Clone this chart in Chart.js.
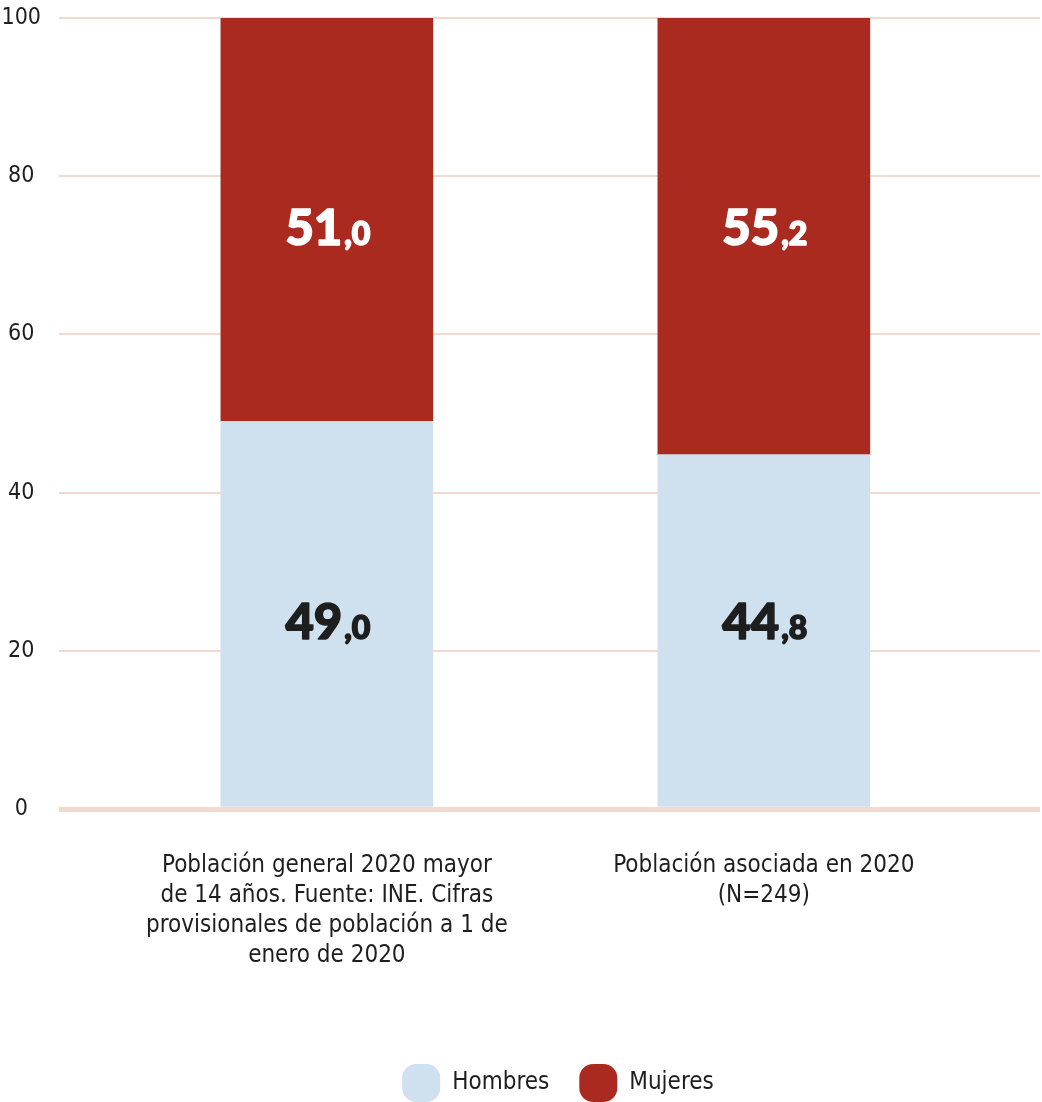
<!DOCTYPE html>
<html>
<head>
<meta charset="utf-8">
<script src="https://cdn.jsdelivr.net/npm/chart.js@4.4.1/dist/chart.umd.min.js"></script>
<style>
  html, body { margin: 0; padding: 0; background: #fff; }
  #wrap { width: 1042px; height: 1102px; position: relative; }
</style>
</head>
<body>
<div id="wrap"><canvas id="cSexo"></canvas></div>
<script>
// Distribución por sexo: población general vs población asociada (%)
const categorias = [
  ['Población general 2020 mayor', 'de 14 años. Fuente: INE. Cifras', 'provisionales de población a 1 de', 'enero de 2020'],
  ['Población asociada en 2020', '(N=249)']
];
const hombres = [49.0, 44.8];
const mujeres = [51.0, 55.2];
const yTicks = [0, 20, 40, 60, 80, 100];

const FONT = "'Liberation Sans Narrow', 'DejaVu Sans Condensed', sans-serif";
const BOLD = "Lato, 'DejaVu Sans', sans-serif";
const C_H = '#cfe0ef';
const C_M = '#ab2a20';
const GRID = '#f1dbd1';

// etiquetas "51,0": parte entera grande + decimal pequeño.
// Cada serie va a la misma altura: la media de los centros de sus tramos.
const etiquetas = {
  id: 'etiquetas',
  afterDatasetsDraw(chart) {
    const ctx = chart.ctx;
    chart.data.datasets.forEach((ds, di) => {
      const meta = chart.getDatasetMeta(di);
      const cys = meta.data.map(b => (b.y + b.base) / 2);
      const cy = cys.reduce((a, b) => a + b, 0) / cys.length;
      meta.data.forEach((bar, i) => {
        const v = ds.data[i].y;
        const [ent, dec] = v.toFixed(1).split('.');
        ctx.save();
        const col = di === 0 ? '#1e1e1e' : '#ffffff';
        ctx.fillStyle = col;
        ctx.strokeStyle = col;
        ctx.lineWidth = 1.6;
        ctx.lineJoin = 'round';
        ctx.textBaseline = 'alphabetic';
        ctx.textAlign = 'left';
        ctx.font = '900 49px ' + BOLD;
        const w1 = ctx.measureText(ent).width;
        ctx.font = '900 32px ' + BOLD;
        const w2 = ctx.measureText(',' + dec).width;
        const x0 = bar.x - (w1 + w2) / 2;
        const base = cy + 17;
        ctx.font = '900 49px ' + BOLD;
        ctx.fillText(ent, x0, base);
        ctx.strokeText(ent, x0, base);
        ctx.font = '900 32px ' + BOLD;
        ctx.fillText(',' + dec, x0 + w1 + 2, base);
        ctx.strokeText(',' + dec, x0 + w1 + 2, base);
        ctx.restore();
      });
    });
  }
};

// la leyenda del original está algo desplazada a la derecha
const leyendaDesplazada = {
  id: 'leyendaDesplazada',
  afterLayout(chart) {
    if (!chart.legend) return;
    chart.legend.left += 38;
    chart.legend.right += 38;
  }
};

new Chart('cSexo', {
  type: 'bar',
  data: {
    datasets: [
      { label: 'Hombres', data: hombres.map((v, i) => ({ x: i, y: v })), backgroundColor: C_H, barThickness: 212, grouped: false },
      { label: 'Mujeres', data: mujeres.map((v, i) => ({ x: i, y: v })), backgroundColor: C_M, barThickness: 212, grouped: false }
    ]
  },
  options: {
    responsive: true, maintainAspectRatio: false, animation: false,
    layout: { padding: { top: 18, right: 2, bottom: -10, left: 0 } },
    plugins: {
      tooltip: { enabled: false },
      legend: {
        position: 'bottom',
        labels: {
          color: '#1e1e1e', font: { family: FONT, size: 24 },
          boxWidth: 38, boxHeight: 38, padding: 30,
          useBorderRadius: true, borderRadius: 14
        }
      }
    },
    scales: {
      x: {
        type: 'linear', offset: false, min: -0.613, max: 1.632,
        grid: { display: false }, border: { display: false },
        afterBuildTicks: ax => { ax.ticks = categorias.map((_, i) => ({ value: i })); },
        afterFit: ax => { ax.height += 29; },
        ticks: {
          color: '#1e1e1e', padding: 34, maxRotation: 0, autoSkip: false,
          font: { family: FONT, size: 24, lineHeight: 1.25 },
          callback: v => categorias[v]
        }
      },
      y: {
        stacked: true, min: 0, max: 100,
        afterBuildTicks: ax => { ax.ticks = yTicks.map(v => ({ value: v })); },
        afterFit: ax => { ax.width = 59; ax.paddingTop = 0; ax.paddingBottom = 0; },
        border: { display: false },
        grid: {
          color: GRID, drawTicks: false,
          lineWidth: c => c.tick && c.tick.value === 0 ? 5 : 2
        },
        ticks: {
          color: '#1e1e1e', padding: 18, crossAlign: 'center',
          font: { family: FONT, size: 23 }
        }
      }
    }
  },
  plugins: [etiquetas, leyendaDesplazada]
});
</script>
</body>
</html>
